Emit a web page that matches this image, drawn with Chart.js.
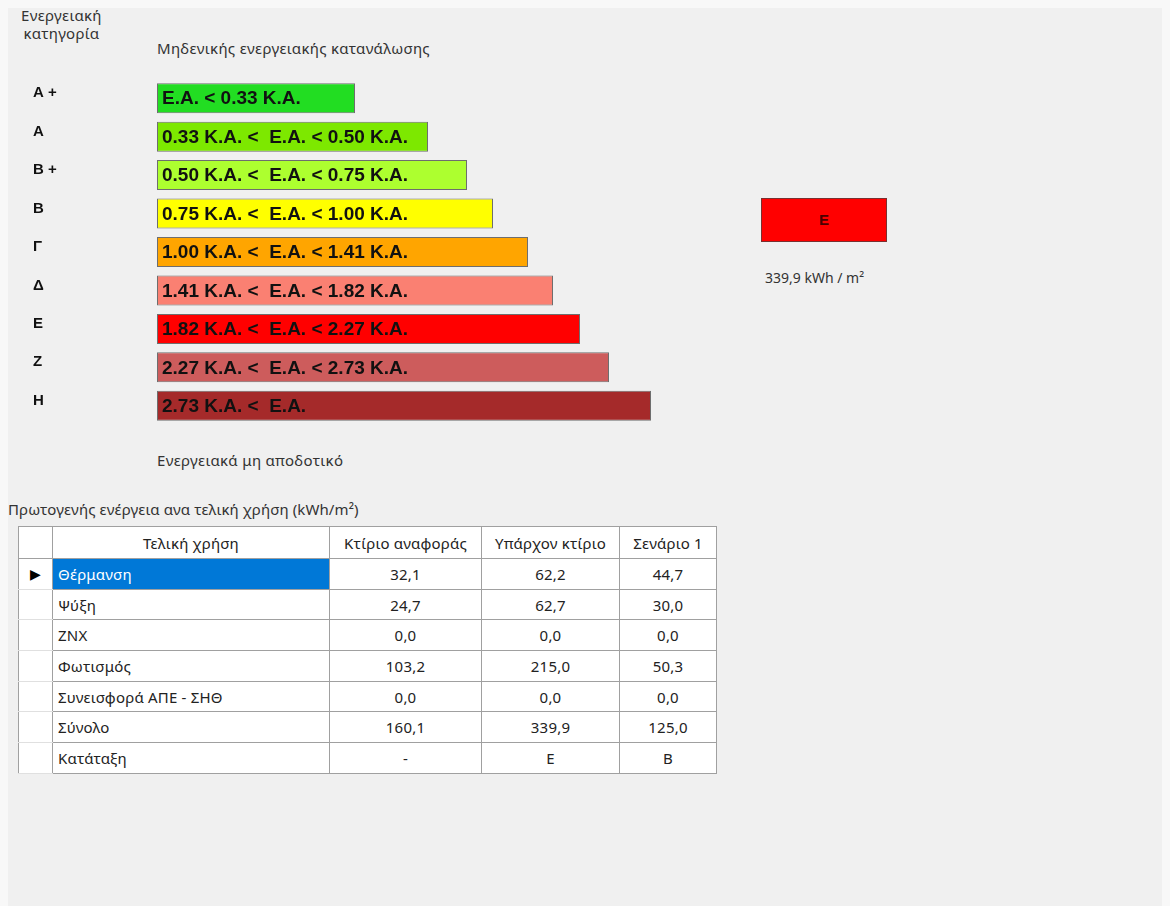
<!DOCTYPE html>
<html>
<head>
<meta charset="utf-8">
<script src="https://cdn.jsdelivr.net/npm/chart.js@4"></script>
<style>
  body { margin: 0; background: #f8f8f8; font-family: "Noto Sans", "DejaVu Sans", sans-serif; color: #333; }
  #panel { position: absolute; left: 8px; top: 8px; width: 1154px; height: 898px; background: #f0f0f0; }
  .lbl { position: absolute; font-size: 15px; letter-spacing: 0.3px; white-space: nowrap; }
  #chartBox { position: absolute; left: 0; top: 60px; width: 700px; height: 380px; }
  #classBox { position: absolute; left: 761px; top: 198px; width: 124px; height: 42px; border: 1px solid #7a3030;
    text-align: center; font: bold 15px "Liberation Sans", sans-serif; line-height: 42px; color: #4a0000; }
  table { position: absolute; left: 18px; top: 526px; border-collapse: collapse; background: #fff; font-size: 15px; letter-spacing: 0.2px; color: #222; }
  td, th { border: 1px solid #a0a0a0; height: 29.7px; padding: 0 5px; font-weight: normal; }
  th { height: 31px; }
  td.num { text-align: center; }
  td.rh { border-top-color: #e0e0e0; border-bottom-color: #e0e0e0; text-align: center; font-size: 14px; color: #000; }
  td.sel { background: #0078d7; color: #fff; }
</style>
</head>
<body>
<div id="panel"></div>
<div class="lbl" style="left:21px;top:6px;text-align:center;line-height:18px;">Ενεργειακή<br>κατηγορία</div>
<div class="lbl" style="left:157px;top:38px;">Μηδενικής ενεργειακής κατανάλωσης</div>
<div class="lbl" style="left:157px;top:450px;">Ενεργειακά μη αποδοτικό</div>
<div class="lbl" style="left:8px;top:499px;letter-spacing:0.1px;">Πρωτογενής ενέργεια ανα τελική χρήση (kWh/m²)</div>
<div id="chartBox"><canvas id="bars"></canvas></div>
<div id="classBox"></div>
<div class="lbl" id="classValue" style="left:765px;top:268px;font-size:14px;letter-spacing:0;"></div>
<table id="tbl"></table>
<script>
// energy classes
const classes = ["Α +", "Α", "Β +", "Β", "Γ", "Δ", "Ε", "Ζ", "Η"];
const ranges = [
  "E.A. < 0.33 K.A.",
  "0.33 K.A. <  E.A. < 0.50 K.A.",
  "0.50 K.A. <  E.A. < 0.75 K.A.",
  "0.75 K.A. <  E.A. < 1.00 K.A.",
  "1.00 K.A. <  E.A. < 1.41 K.A.",
  "1.41 K.A. <  E.A. < 1.82 K.A.",
  "1.82 K.A. <  E.A. < 2.27 K.A.",
  "2.27 K.A. <  E.A. < 2.73 K.A.",
  "2.73 K.A. <  E.A."
];
const barLengths = [198, 271, 310, 336, 371, 396, 423, 452, 494];
const classColors = ["#22dd22", "#7de800", "#adff2f", "#ffff00", "#ffa500", "#fa8072", "#ff0000", "#cd5c5c", "#a52a2a"];

const currentClass = "Ε";
const currentValue = "339,9";

// table
const columns = ["Τελική χρήση", "Κτίριο αναφοράς", "Υπάρχον κτίριο", "Σενάριο 1"];
const uses = ["Θέρμανση", "Ψύξη", "ZNX", "Φωτισμός", "Συνεισφορά ΑΠΕ - ΣΗΘ", "Σύνολο", "Κατάταξη"];
const reference = ["32,1", "24,7", "0,0", "103,2", "0,0", "160,1", "-"];
const existing = ["62,2", "62,7", "0,0", "215,0", "0,0", "339,9", "Ε"];
const scenario1 = ["44,7", "30,0", "0,0", "50,3", "0,0", "125,0", "Β"];

const barText = {
  id: "barText",
  afterDatasetsDraw(chart) {
    const ctx = chart.ctx;
    ctx.save();
    ctx.font = "bold 19px 'Liberation Sans', sans-serif";
    ctx.fillStyle = "#111";
    ctx.textBaseline = "middle";
    chart.getDatasetMeta(0).data.forEach((bar, i) => {
      ctx.fillText(ranges[i], bar.base + 5, bar.y + 1);
    });
    ctx.restore();
  }
};

new Chart(document.getElementById("bars"), {
  type: "bar",
  data: {
    labels: classes,
    datasets: [{
      data: barLengths,
      backgroundColor: classColors,
      borderColor: "#6e6e6e",
      borderWidth: 1,
      borderSkipped: false,
      categoryPercentage: 1,
      barPercentage: 0.78
    }]
  },
  options: {
    indexAxis: "y",
    responsive: true,
    maintainAspectRatio: false,
    animation: false,
    layout: { padding: { left: 33, top: 19, bottom: 15, right: 0 } },
    plugins: { legend: { display: false }, tooltip: { enabled: false } },
    scales: {
      x: { display: false, min: 0, max: 543 },
      y: {
        grid: { display: false },
        border: { display: false },
        afterFit(scale) { scale.width = 124; },
        ticks: {
          crossAlign: "far",
          labelOffset: -5,
          color: "#111",
          font: { family: "'Liberation Sans', sans-serif", size: 15, weight: "bold" }
        }
      }
    }
  },
  plugins: [barText]
});

const ci = classes.indexOf(currentClass);
const box = document.getElementById("classBox");
box.textContent = currentClass;
box.style.background = classColors[ci];
document.getElementById("classValue").textContent = currentValue + " kWh / m²";

const tbl = document.getElementById("tbl");
let html = '<tr><th style="width:23px"></th><th style="width:266px">' + columns[0] + '</th>' +
  '<th style="width:141px">' + columns[1] + '</th><th style="width:127px">' + columns[2] + '</th>' +
  '<th style="width:86px">' + columns[3] + '</th></tr>';
uses.forEach((u, i) => {
  html += '<tr><td class="rh">' + (i === 0 ? "▶" : "") + '</td><td' + (i === 0 ? ' class="sel"' : '') + '>' + u + '</td>' +
    '<td class="num">' + reference[i] + '</td><td class="num">' + existing[i] + '</td><td class="num">' + scenario1[i] + '</td></tr>';
});
tbl.innerHTML = html;
</script>
</body>
</html>
